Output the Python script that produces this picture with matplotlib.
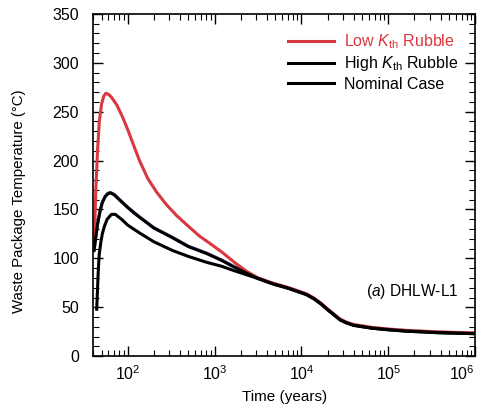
import numpy as np
import matplotlib
matplotlib.use("Agg")
import matplotlib.pyplot as plt
from matplotlib.ticker import LogLocator, MultipleLocator, NullFormatter

plt.rcParams['font.family'] = ['Liberation Sans', 'DejaVu Sans']
plt.rcParams['mathtext.fontset'] = 'custom'
plt.rcParams['mathtext.rm'] = 'Liberation Sans'
plt.rcParams['mathtext.it'] = 'Liberation Sans:italic'

# tail shared by all three cases once they converge (years, deg C)
t_tail = [4650, 7000, 11400, 14000, 17000, 20000, 25000, 28000, 33000,
          40000, 65000, 100000, 160000, 380000, 1000000]
T_tail = [74, 69.5, 63, 58.5, 53, 47.5, 40.5, 37, 34, 31.5, 28.6, 27, 25.6, 24, 23]

# Low K_th rubble
t_low = [41, 42, 43, 45, 47, 50, 53, 56, 60, 65, 75, 87, 100, 118, 137, 170,
         215, 280, 365, 500, 670, 900, 1240, 1700, 2330, 3200]
T_low = [110, 140, 170, 210, 238, 257, 265, 268, 267, 264, 256, 244, 231, 214,
         199, 181, 167, 154, 143, 132, 122, 114, 105, 95, 86, 79]

# High K_th rubble
t_high = [41, 43, 45, 48, 51, 55, 59, 63, 70, 80, 100, 120, 137, 200, 329,
          500, 808, 1200, 1610, 2200, 3030]
T_high = [108, 122, 135, 148, 157, 163, 166, 167, 165, 160, 152, 146, 142,
          131, 121, 112, 105, 98, 92, 86, 80]

# Nominal case
t_nom = [44, 45, 46, 47, 49, 51, 54, 58, 65, 72, 85, 100, 137, 200, 329,
         500, 808, 1200, 1610, 2200, 3030]
T_nom = [48, 70, 90, 104, 116, 125, 133, 140, 145, 145, 140, 134, 126, 117,
         108, 102, 96, 92, 88, 84, 80]

red = '#d8383f'

fig = plt.figure(figsize=(4.8, 4.08), dpi=100)
ax = fig.add_axes([0.194, 0.127, 0.796, 0.839])

ax.plot(t_high + t_tail, np.array(T_high + T_tail) + 0.5, color='#6a5aa8', lw=2.2)
ax.plot(t_low + t_tail, np.array(T_low + T_tail) + 0.8, color=red, lw=2.2,
        label='Low $K_{\\mathrm{th}}$ Rubble')
ax.plot(t_high + t_tail, T_high + T_tail, color='black', lw=2.2,
        label='High $K_{\\mathrm{th}}$ Rubble')
ax.plot(t_nom + t_tail, T_nom + T_tail, color='black', lw=2.2,
        label='Nominal Case')

ax.set_xscale('log')
ax.set_xlim(40, 1e6)
ax.set_ylim(0, 350)
xt = [1e2, 1e3, 1e4, 1e5, 1e6]
ax.set_xticks(xt, ['$10^{%d}$' % int(np.log10(v)) for v in xt])
ax.xaxis.set_minor_locator(LogLocator(base=10, subs=np.arange(2, 10), numticks=20))
ax.xaxis.set_minor_formatter(NullFormatter())
ax.get_xticklabels()[-1].set_ha('right')
ax.yaxis.set_major_locator(MultipleLocator(50))
ax.yaxis.set_minor_locator(MultipleLocator(10))
ax.tick_params(which='both', direction='in', top=True, right=True, labelsize=11.5)
ax.tick_params(which='major', length=7, width=1)
ax.tick_params(which='minor', length=4, width=0.8)
ax.tick_params(axis='x', which='major', pad=6)
ax.tick_params(axis='y', which='major', pad=10)
for s in ax.spines.values():
    s.set_linewidth(1.2)

ax.set_xlabel('Time (years)', fontsize=11, labelpad=5)
ax.set_ylabel('Waste Package Temperature (\u00b0C)', fontsize=10.8)
ax.yaxis.set_label_coords(-0.175, 0.453)

ax.text(0.955, 0.19, '($a$) DHLW-L1', transform=ax.transAxes, ha='right',
        va='center', fontsize=11.2)

leg = ax.legend(loc='upper right', frameon=False, fontsize=11.5, handlelength=2.9,
                handletextpad=0.6, labelspacing=0.22, borderaxespad=0.9,
                bbox_to_anchor=(1.01, 1.007))
leg.get_texts()[0].set_color(red)

fig.savefig('out.png', dpi=100)
